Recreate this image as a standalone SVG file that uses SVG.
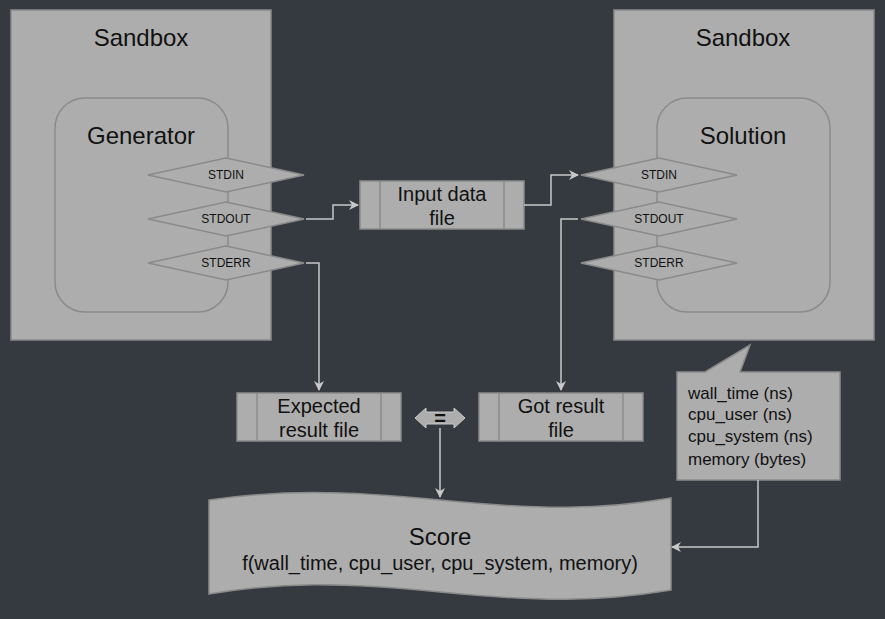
<svg xmlns="http://www.w3.org/2000/svg" width="885" height="619" viewBox="0 0 885 619">
<style>
.s{fill:#adadad;stroke:#8a8a8a;stroke-width:1.5}
.c{fill:none;stroke:#c8c8c8;stroke-width:1.5}
text{font-family:'Liberation Sans',Arimo,Arial,sans-serif;fill:#111;text-anchor:middle}
.t24{font-size:24px}.t20{font-size:20px}.t11{font-size:12px}.t16{font-size:17px;text-anchor:start}
</style>
<defs><marker id="a" markerWidth="10" markerHeight="10" refX="9" refY="5" orient="auto" markerUnits="userSpaceOnUse"><path d="M0,0 L10,5 L0,10 L3,5 Z" fill="#c8c8c8"/></marker></defs>
<rect width="885" height="619" fill="#343a40"/>
<g id="sandbox-left"><rect class="s" x="11" y="10" width="260" height="330"/><text class="t24" x="141" y="46">Sandbox</text></g>
<g id="sandbox-right"><rect class="s" x="614" y="10" width="260" height="330"/><text class="t24" x="743" y="46">Sandbox</text></g>
<g id="generator"><rect class="s" x="55" y="98" width="173" height="214" rx="30"/><text class="t24" x="141" y="144">Generator</text></g>
<g id="solution"><rect class="s" x="657" y="98" width="173" height="214" rx="30"/><text class="t24" x="743" y="144">Solution</text></g>
<g id="gen-stdin"><polygon class="s" points="148,175 226,158 304,175 226,192"/><text class="t11" x="226" y="179">STDIN</text></g>
<g id="gen-stdout"><polygon class="s" points="148,219 226,202 304,219 226,236"/><text class="t11" x="226" y="223">STDOUT</text></g>
<g id="gen-stderr"><polygon class="s" points="148,263 226,246 304,263 226,280"/><text class="t11" x="226" y="267">STDERR</text></g>
<g id="sol-stdin"><polygon class="s" points="581,175 659,158 737,175 659,192"/><text class="t11" x="659" y="179">STDIN</text></g>
<g id="sol-stdout"><polygon class="s" points="581,219 659,202 737,219 659,236"/><text class="t11" x="659" y="223">STDOUT</text></g>
<g id="sol-stderr"><polygon class="s" points="581,263 659,246 737,263 659,280"/><text class="t11" x="659" y="267">STDERR</text></g>
<g id="input-file"><rect class="s" x="360" y="181" width="164" height="48"/><path class="s" d="M380,181V229M504,181V229"/><text class="t20" x="442" y="201">Input data</text><text class="t20" x="442" y="225">file</text></g>
<g id="expected"><rect class="s" x="237" y="393" width="164" height="48"/><path class="s" d="M257,393V441M381,393V441"/><text class="t20" x="319" y="413">Expected</text><text class="t20" x="319" y="437">result file</text></g>
<g id="got"><rect class="s" x="479" y="393" width="164" height="48"/><path class="s" d="M499,393V441M623,393V441"/><text class="t20" x="561" y="413">Got result</text><text class="t20" x="561" y="437">file</text></g>
<g id="compare"><polygon points="415,418 426,408 426,412 454,412 454,408 465,418 454,428 454,424 426,424 426,428" fill="#adadad" stroke="#c8c8c8"/><text class="t20" x="440" y="425" style="font-weight:bold">=</text></g>
<g id="score"><path class="s" d="M209,500 C280,490 340,490 440,500 C540,510 600,510 671,498 L671,590 C600,602 540,602 440,592 C340,582 280,582 209,594 Z"/><text class="t24" x="440" y="545">Score</text><text class="t20" x="440" y="570">f(wall_time, cpu_user, cpu_system, memory)</text></g>
<g id="metrics"><path class="s" d="M677,372 H705 L750,345 L740,372 H840 V480 H677 Z"/><text class="t16" x="688" y="399">wall_time (ns)</text><text class="t16" x="688" y="420">cpu_user (ns)</text><text class="t16" x="688" y="442">cpu_system (ns)</text><text class="t16" x="688" y="465">memory (bytes)</text></g>
<g id="connectors">
<path class="c" marker-end="url(#a)" d="M306,219H333V205H358"/>
<path class="c" marker-end="url(#a)" d="M524,205H551V175H578"/>
<path class="c" marker-end="url(#a)" d="M578,219H561V390"/>
<path class="c" marker-end="url(#a)" d="M306,263H319V390"/>
<path class="c" marker-end="url(#a)" d="M440,428V497"/>
<path class="c" marker-end="url(#a)" d="M758,480V547H672"/>
</g>
</svg>
